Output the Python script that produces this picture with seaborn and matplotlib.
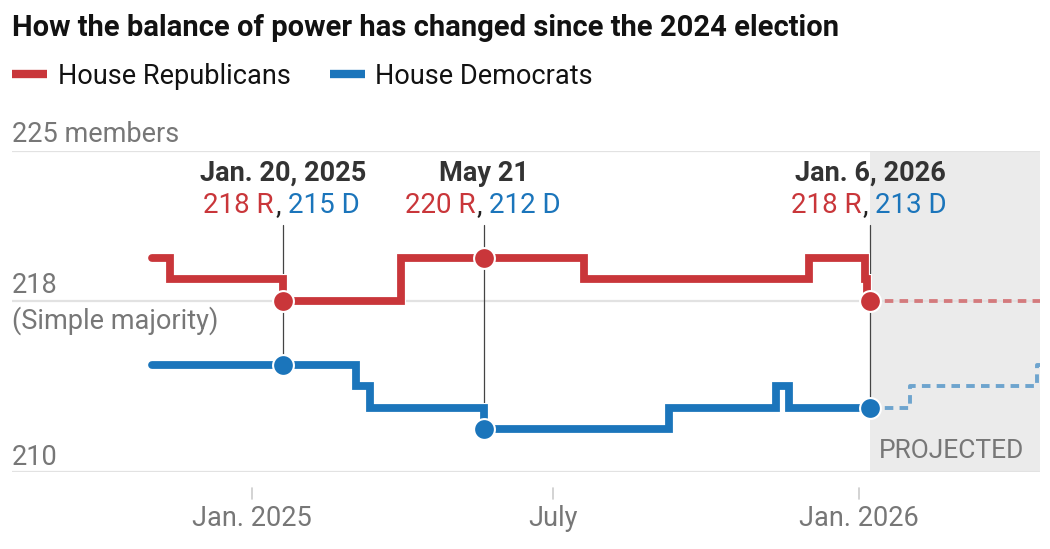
import matplotlib
matplotlib.use('Agg')
import matplotlib.pyplot as plt
import matplotlib.patheffects as pe
import matplotlib.transforms as mtransforms
from matplotlib.lines import Line2D
import seaborn as sns
import pandas as pd

sns.set_style('white')
plt.rcParams['font.family'] = ['Roboto', 'DejaVu Sans']

RED = '#c9363a'
BLUE = '#1b75bb'
GRAY = '#777777'
FS = 19.5

# seat counts, step changes
rep_dates = ['2024-11-02', '2024-11-13', '2025-01-20', '2025-04-01', '2025-07-20',
             '2025-12-02', '2026-01-05', '2026-01-06', '2026-01-08']
rep_seats = [220, 219, 218, 220, 219, 220, 219, 218, 218]
dem_dates = ['2024-11-02', '2025-03-05', '2025-03-13', '2025-05-21', '2025-09-09',
             '2025-11-12', '2025-11-20', '2026-01-08']
dem_seats = [215, 214, 213, 212, 213, 214, 213, 213]

# projected
rep_proj_dates = ['2026-01-08', '2026-04-20']
rep_proj_seats = [218, 218]
dem_proj_dates = ['2026-01-08', '2026-02-01', '2026-04-18', '2026-04-20']
dem_proj_seats = [213, 214, 215, 215]

# callouts
callout_dates = ['2025-01-20', '2025-05-21', '2026-01-08']
callout_labels = ['Jan. 20, 2025', 'May 21', 'Jan. 6, 2026']
callout_rep = [218, 220, 218]
callout_dem = [215, 212, 213]

tick_dates = ['2025-01-01', '2025-07-01', '2026-01-01']
tick_labels = ['Jan. 2025', 'July', 'Jan. 2026']
y_grid = [210, 218, 225]


def make_df(dates, seats, party):
    return pd.DataFrame({'date': pd.to_datetime(dates), 'seats': seats, 'party': party})


actual = pd.concat([make_df(rep_dates, rep_seats, 'R'), make_df(dem_dates, dem_seats, 'D')])
proj = pd.concat([make_df(rep_proj_dates, rep_proj_seats, 'R'),
                  make_df(dem_proj_dates, dem_proj_seats, 'D')])
pal = {'R': RED, 'D': BLUE}

fig = plt.figure(figsize=(10.5, 5.49), dpi=100)
ax = fig.add_axes([12 / 1050, 77 / 549, 1028 / 1050, 321 / 549])

x0, x1 = pd.Timestamp('2024-08-10'), pd.Timestamp('2026-04-20')
ax.set_xlim(x0, x1)
ax.set_ylim(210, 225)

# projected shading
ax.axvspan(pd.Timestamp(callout_dates[-1]), x1, color='#ebebeb', zorder=0, lw=0)
for y in y_grid:
    ax.axhline(y, color='#e2e2e2', lw=1.6, zorder=0.5)

sns.lineplot(data=proj, x='date', y='seats', hue='party', palette=pal, estimator=None,
             drawstyle='steps-post', lw=2.8, alpha=0.6, linestyle=(0, (2.2, 1.6)),
             legend=False, ax=ax, zorder=2)
sns.lineplot(data=actual, x='date', y='seats', hue='party', palette=pal, estimator=None,
             drawstyle='steps-post', lw=5.6, solid_capstyle='round', solid_joinstyle='miter',
             path_effects=[pe.withStroke(linewidth=7.2, foreground='white')],
             legend=False, ax=ax, zorder=3)

# callouts
for d, lab, r, dm in zip(callout_dates, callout_labels, callout_rep, callout_dem):
    d = pd.Timestamp(d)
    ax.plot([d, d], [dm, 221.55], color='#444444', lw=0.9, zorder=2.5)
    ax.plot([d], [r], 'o', ms=15, color=RED, mec='white', mew=1.5, zorder=4)
    ax.plot([d], [dm], 'o', ms=15, color=BLUE, mec='white', mew=1.5, zorder=4)
    ax.annotate(lab, (d, 223.95), ha='center', va='center', fontsize=FS,
                fontweight='bold', color='#333333')
    ax.annotate(f'{r} R', (d, 222.45), xytext=(-6.5, 0), textcoords='offset points',
                ha='right', va='center', fontsize=FS + 0.5, color=RED)
    ax.annotate(',', (d, 222.45), xytext=(-3.5, 0), textcoords='offset points',
                ha='center', va='center', fontsize=FS + 0.5, color='#222222')
    ax.annotate(f'{dm} D', (d, 222.45), xytext=(3.5, 0), textcoords='offset points',
                ha='left', va='center', fontsize=FS + 0.5, color=BLUE)

ax.annotate('PROJECTED', (1, 211.0), xycoords=('axes fraction', 'data'),
            xytext=(-11, 0), textcoords='offset points', ha='right', va='center',
            fontsize=FS - 0.5, color=GRAY)

# y labels
ytr = mtransforms.blended_transform_factory(ax.transAxes, ax.transData)
ax.annotate('225 members', (0, 225), xycoords=ytr, xytext=(0, 6.5), textcoords='offset points',
            ha='left', va='baseline', fontsize=FS, color=GRAY)
ax.annotate('218', (0, 218), xycoords=ytr, xytext=(0, 5.5), textcoords='offset points',
            ha='left', va='baseline', fontsize=FS, color=GRAY)
ax.annotate('(Simple majority)', (0, 218), xycoords=ytr, xytext=(0, -4), textcoords='offset points',
            ha='left', va='top', fontsize=FS, color=GRAY)
ax.annotate('210', (0, 210), xycoords=ytr, xytext=(0, 5), textcoords='offset points',
            ha='left', va='baseline', fontsize=FS, color=GRAY)

# x ticks
ax.set_yticks([])
tks = pd.to_datetime(tick_dates)
ax.set_xticks(tks)
ax.set_xticklabels(tick_labels, fontsize=FS, color=GRAY)
ax.tick_params(axis='x', length=0, pad=24)
xtr = mtransforms.blended_transform_factory(ax.transData, ax.transAxes)
for t in tks:
    ax.plot([t, t], [-0.05, -0.084], transform=xtr, color='#cccccc', lw=1.2, clip_on=False)
ax.set_xlabel('')
ax.set_ylabel('')
for s in ax.spines.values():
    s.set_visible(False)

# title and legend
fig.text(12 / 1050, 1 - 28 / 549, 'How the balance of power has changed since the 2024 election',
         ha='left', va='center', fontsize=21, fontweight='bold', color='#121212')
handles = [Line2D([], [], color=RED, lw=6, solid_capstyle='butt'),
           Line2D([], [], color=BLUE, lw=6, solid_capstyle='butt')]
fig.legend(handles, ['House Republicans', 'House Democrats'], loc='center left',
           bbox_to_anchor=(12 / 1050, 1 - 76 / 549), ncol=2, frameon=False, fontsize=FS,
           handlelength=1.3, handletextpad=0.38, columnspacing=1.45, borderpad=0,
           borderaxespad=0, labelcolor='#121212')

fig.savefig('out.png', dpi=100)
